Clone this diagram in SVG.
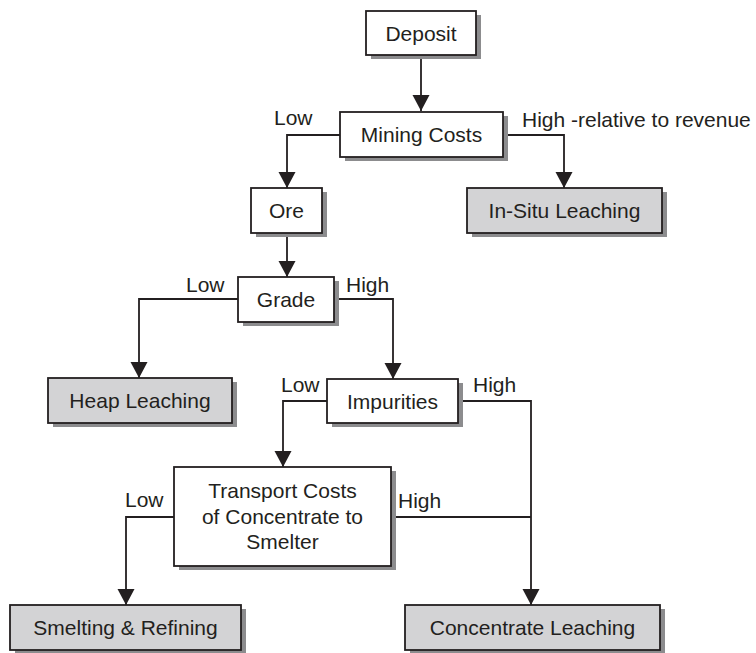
<svg xmlns="http://www.w3.org/2000/svg" width="756" height="653" viewBox="0 0 756 653">
  <style>
    .box { fill: #ffffff; stroke: #231f20; stroke-width: 1.8; }
    .end { fill: #d3d3d5; stroke: #231f20; stroke-width: 1.8; }
    .shadow { fill: #8c8c8e; }
    .label { font-family: "Liberation Sans", Arial, sans-serif; font-size: 21px; fill: #231f20; }
    .mid { text-anchor: middle; }
    .wire { fill: none; stroke: #231f20; stroke-width: 1.8; }
  </style>
  <defs>
    <marker id="arrow" markerUnits="userSpaceOnUse" markerWidth="17" markerHeight="18" refX="16" refY="8.5" orient="auto">
      <path d="M0,0 L16,8.5 L0,17 z" fill="#231f20"/>
    </marker>
  </defs>
  <rect width="756" height="653" fill="#ffffff"/>

  <!-- connectors -->
  <g id="connectors">
    <path class="wire" d="M421,55 V111" marker-end="url(#arrow)"/>
    <path class="wire" d="M340,135 H287 V188" marker-end="url(#arrow)"/>
    <path class="wire" d="M503,135 H564 V188" marker-end="url(#arrow)"/>
    <path class="wire" d="M287,233 V277" marker-end="url(#arrow)"/>
    <path class="wire" d="M238,299 H139 V378" marker-end="url(#arrow)"/>
    <path class="wire" d="M334,299 H393 V379" marker-end="url(#arrow)"/>
    <path class="wire" d="M327,401 H283 V467" marker-end="url(#arrow)"/>
    <path class="wire" d="M458,401 H531 V605" marker-end="url(#arrow)"/>
    <path class="wire" d="M391,517 H531"/>
    <path class="wire" d="M174,517 H126 V605" marker-end="url(#arrow)"/>
    <text class="label" x="274" y="125">Low</text>
    <text class="label" x="522" y="127">High -relative to revenue</text>
    <text class="label" x="186" y="292">Low</text>
    <text class="label" x="346" y="292">High</text>
    <text class="label" x="281" y="392">Low</text>
    <text class="label" x="473" y="392">High</text>
    <text class="label" x="125" y="507">Low</text>
    <text class="label" x="398" y="508">High</text>
  </g>

  <g id="deposit">
    <rect class="shadow" x="371" y="15" width="110" height="44"/>
    <rect class="box" x="366" y="11" width="110" height="44"/>
    <text class="label mid" x="421" y="41">Deposit</text>
  </g>
  <g id="mining-costs">
    <rect class="shadow" x="345" y="116" width="163" height="45"/>
    <rect class="box" x="340" y="112" width="163" height="45"/>
    <text class="label mid" x="421.5" y="142">Mining Costs</text>
  </g>
  <g id="ore">
    <rect class="shadow" x="256" y="192" width="71" height="45"/>
    <rect class="box" x="251" y="188" width="71" height="45"/>
    <text class="label mid" x="286.5" y="218">Ore</text>
  </g>
  <g id="in-situ-leaching">
    <rect class="shadow" x="472" y="192" width="195" height="45"/>
    <rect class="end" x="467" y="188" width="195" height="45"/>
    <text class="label mid" x="564.5" y="218">In-Situ Leaching</text>
  </g>
  <g id="grade">
    <rect class="shadow" x="243" y="281" width="96" height="45"/>
    <rect class="box" x="238" y="277" width="96" height="45"/>
    <text class="label mid" x="286" y="307">Grade</text>
  </g>
  <g id="heap-leaching">
    <rect class="shadow" x="53" y="382" width="184" height="45"/>
    <rect class="end" x="48" y="378" width="184" height="45"/>
    <text class="label mid" x="140" y="408">Heap Leaching</text>
  </g>
  <g id="impurities">
    <rect class="shadow" x="332" y="383" width="131" height="44"/>
    <rect class="box" x="327" y="379" width="131" height="44"/>
    <text class="label mid" x="392.5" y="409">Impurities</text>
  </g>
  <g id="transport-costs">
    <rect class="shadow" x="179" y="471" width="217" height="99"/>
    <rect class="box" x="174" y="467" width="217" height="99"/>
    <text class="label mid" x="282.5" y="498">Transport Costs</text>
    <text class="label mid" x="282.5" y="524">of Concentrate to</text>
    <text class="label mid" x="282.5" y="549">Smelter</text>
  </g>
  <g id="smelting-refining">
    <rect class="shadow" x="15" y="609" width="231" height="44"/>
    <rect class="end" x="10" y="605" width="231" height="45"/>
    <text class="label mid" x="125.5" y="635">Smelting &amp; Refining</text>
  </g>
  <g id="concentrate-leaching">
    <rect class="shadow" x="410" y="609" width="255" height="44"/>
    <rect class="end" x="405" y="605" width="255" height="45"/>
    <text class="label mid" x="532.5" y="635">Concentrate Leaching</text>
  </g>
</svg>
